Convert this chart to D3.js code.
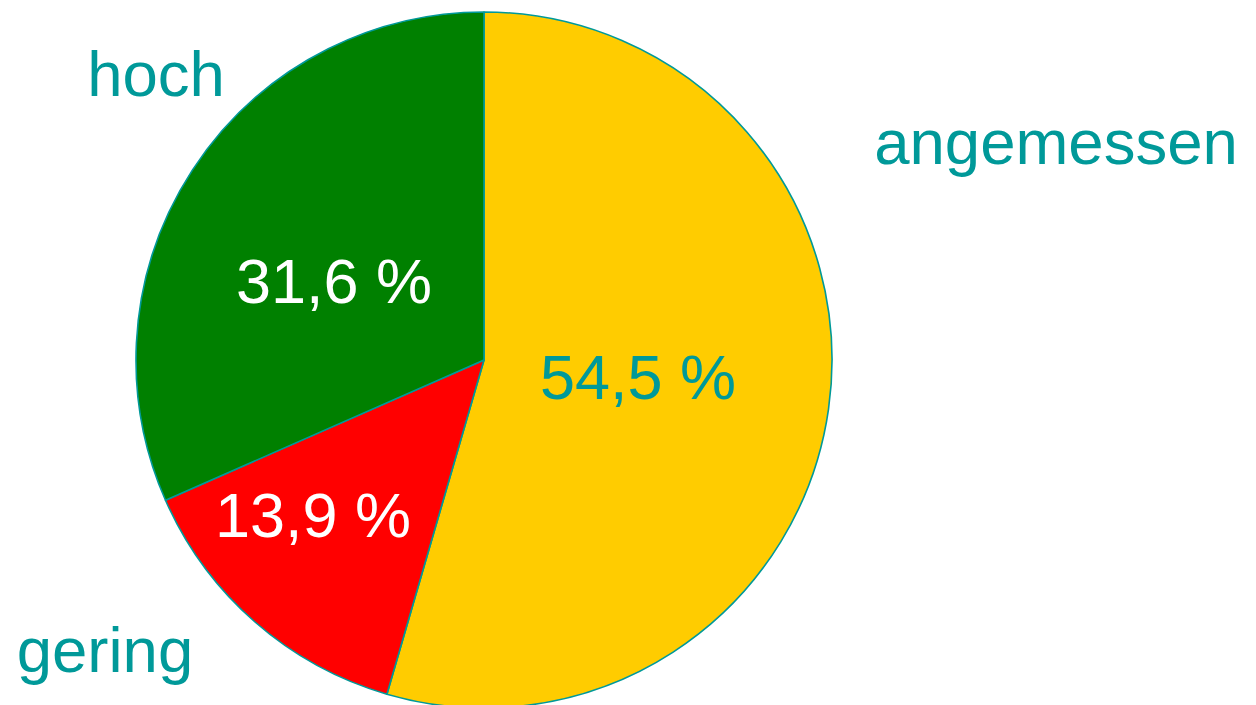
<!DOCTYPE html>
<html>
<head>
<meta charset="utf-8">
<script src="https://cdn.jsdelivr.net/npm/d3@7"></script>
<style>
  html, body { margin: 0; padding: 0; background: #fff; }
  svg { display: block; }
</style>
</head>
<body>
<svg id="chart" width="1256" height="705"></svg>
<script>
// Slice data, clockwise from 12 o'clock
const categories = ["angemessen", "gering", "hoch"];
const values = [54.5, 13.9, 31.6];
const valueLabels = ["54,5 %", "13,9 %", "31,6 %"];
const colors = ["#FFCC00", "#FF0000", "#008000"];

const W = 1256, H = 705;
const cx = 484, cy = 360, R = 348;
const teal = "#009999";
const font = "'Liberation Sans', Arial, sans-serif";

// Label placement (layout only)
const valuePos = [[638, 399], [313, 537], [334, 303]];
const valueFill = [teal, "#ffffff", "#ffffff"];
const namePos = [[1056, 164], [105, 672], [156, 96]];

const svg = d3.select("#chart");

const pie = d3.pie().sort(null).value(d => d)
  .startAngle(0).endAngle(2 * Math.PI);
const arcs = pie(values);
const arc = d3.arc().innerRadius(0).outerRadius(R);

const g = svg.append("g").attr("transform", `translate(${cx},${cy})`);

g.selectAll("path.slice")
  .data(arcs)
  .join("path")
  .attr("class", "slice")
  .attr("d", arc)
  .attr("fill", (d, i) => colors[i])
  .attr("stroke", teal)
  .attr("stroke-width", 1.6)
  .attr("stroke-linejoin", "round");

// Percentage labels inside slices
svg.selectAll("text.val")
  .data(arcs)
  .join("text")
  .attr("class", "val")
  .attr("x", (d, i) => valuePos[i][0])
  .attr("y", (d, i) => valuePos[i][1])
  .attr("text-anchor", "middle")
  .attr("font-family", font)
  .attr("font-size", 63)
  .attr("fill", (d, i) => valueFill[i])
  .text((d, i) => valueLabels[i]);

// Category names outside the pie
svg.selectAll("text.name")
  .data(categories)
  .join("text")
  .attr("class", "name")
  .attr("x", (d, i) => namePos[i][0])
  .attr("y", (d, i) => namePos[i][1])
  .attr("text-anchor", "middle")
  .attr("font-family", font)
  .attr("font-size", 63.5)
  .attr("fill", teal)
  .text(d => d);
</script>
</body>
</html>
